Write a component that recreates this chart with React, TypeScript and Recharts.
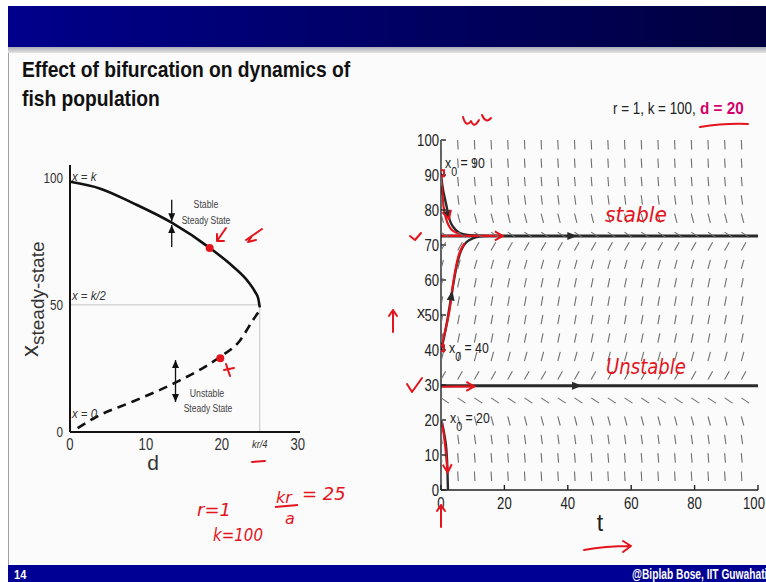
import React from 'react';
import { ComposedChart, Line, Scatter, XAxis, YAxis, ReferenceLine } from 'recharts';

const SANS = '"Liberation Sans", Arial, sans-serif';
const INK = '#e3141c';

// ---- bifurcation diagram: steady states of x against harvest rate d ----
const stableD = [0, 4, 8.3, 13.4, 18.4, 21.5, 23.5, 24.4, 24.8, 25];
const stableX = [98.4, 95.7, 90, 82.3, 72.4, 65, 59, 55, 52.5, 49];
const unstableD = [1, 3.5, 8.3, 13.8, 19.5, 22.4, 24.1, 24.8];
const unstableX = [1.5, 6, 12, 19.3, 29, 36, 44, 47];
const dTicks = [0, 10, 20, 25, 30];
const dTickLabels = ['0', '10', '20', 'kr/4', '30'];
const xssTicks = [0, 50, 100];
const kHalf = 50;
const dCritical = 25;
// arrows showing flow toward / away from each branch
const stableArrowD = 13.4;
const stableArrowFrom = [91.3, 72.8];
const stableArrowTo = [82.9, 81.4];
const unstableArrowD = 13.9;
const unstableArrowFrom = [19.3, 19.3];
const unstableArrowTo = [28.3, 11.8];
// ink dots at d = 20
const inkDotD = [18.4, 19.8];
const inkDotX = [72.4, 29];

// ---- time course, r = 1, k = 100, d = 20 ----
const tTicks = [0, 20, 40, 60, 80, 100];
const xTicks = [0, 10, 20, 30, 40, 50, 60, 70, 80, 90, 100];
const fieldT = [0, 5.26, 10.53, 15.79, 21.05, 26.32, 31.58, 36.84, 42.11, 47.37, 52.63, 57.89, 63.16, 68.42, 73.68, 78.95, 84.21, 89.47, 94.74];
const fieldX = [5.26, 10.53, 15.79, 21.05, 26.32, 31.58, 36.84, 42.11, 47.37, 52.63, 57.89, 63.16, 68.42, 73.68, 78.95, 84.21, 89.47, 94.74, 100];
const fieldSlope = [-15, -10.6, -6.7, -3.4, -0.6, 1.6, 3.3, 4.4, 4.9, 4.9, 4.4, 3.3, 1.6, -0.6, -3.4, -6.7, -10.6, -15, -20];
const eqHigh = 72.6;
const eqLow = 29.8;
const traj90T = [0, 0.6, 1.3, 2, 2.8, 4, 5.4, 7, 10, 14];
const traj90X = [90, 86, 83, 80, 77, 75, 73.7, 73.1, 72.7, 72.6];
const traj40T = [0, 1, 2, 3, 4, 5, 6, 7, 8, 10, 12, 15];
const traj40X = [40, 43.8, 48.5, 54, 59.5, 64.3, 67.6, 69.6, 70.8, 71.9, 72.4, 72.6];
const traj20T = [0, 0.6, 1.2, 1.7, 2, 2.2];
const traj20X = [20, 18, 15, 11.5, 6.5, 0];
const headT = [43, 44.5, 2.8, 3.6];
const headX = [eqHigh, eqLow, 77, 57];
const headSlope = [0, 0, -2.3, 5];
// red ink strokes over the time course
const ink90T = [0, 0.3, 0.8, 1.6, 2.6, 3.8, 6];
const ink90X = [90.5, 86, 81, 77.5, 75.3, 74, 73.2];
const inkHighT = [-0.8, 19.5];
const inkHighX = [72.6, 72.6];
const ink40T = [0, 1.2, 2.8, 4, 5.4, 7.5];
const ink40X = [40.5, 45, 52, 60, 66.5, 70.5];
const inkLowT = [-0.8, 10.5];
const inkLowX = [29.5, 29.6];
const ink20T = [0, 0.8, 1.5, 2.1];
const ink20X = [20, 16.5, 11, 5];
const inkHeadT = [19.5, 10.5, 2.1, 2.5];
const inkHeadX = [72.6, 29.6, 5, 77.5];
const inkHeadSlope = [0, 0, -20, -3];
const inkMarkT = [0, 0];
const inkMarkX = [90.5, 40.5];

const zip = (a: number[], b: number[], ka: string, kb: string) => a.map((v, i) => ({ [ka]: v, [kb]: b[i] }));

// left chart geometry
const L = { w: 320, h: 330, top: 15, right: 20, bottom: 18, left: 30, yAxisW: 40, xAxisH: 30 };
// right chart geometry
const R = { w: 386, h: 420, top: 20, right: 8, bottom: 20, left: 16, yAxisW: 45, xAxisH: 30 };
const PX_T = (R.w - R.left - R.yAxisW - R.right) / 100;
const PX_X = (R.h - R.top - R.bottom - R.xAxisH) / 100;

// condensed text: the slide font is squeezed horizontally
const NText = ({ x, y, s = 0.8, children, ...rest }: any) => (
  <text transform={`translate(${x},${y}) scale(${s},1)`} fontFamily={SANS} {...rest}>{children}</text>
);

const DTick = (p: any) => {
  const { x, y, payload } = p;
  const i = dTicks.indexOf(payload.value);
  const crit = payload.value === dCritical;
  return (
    <NText x={x} y={y + (crit ? 11 : 13)} s={crit ? 0.85 : 0.82} textAnchor="middle"
      fontSize={crit ? 11 : 16} fontStyle={crit ? 'italic' : 'normal'} fill="#333">
      {dTickLabels[i]}
    </NText>
  );
};

const XssTick = (p: any) => (
  <NText x={p.x} y={p.y + 5} s={0.78} textAnchor="end" fontSize={15} fill="#333">{p.payload.value}</NText>
);

const TTick = (p: any) => (
  <NText x={p.x} y={p.y + 12} s={0.82} textAnchor="middle" fontSize={16} fill="#222">{p.payload.value}</NText>
);

const XTick = (p: any) => (
  <NText x={p.x} y={p.y + 6} s={0.82} textAnchor="end" fontSize={16} fill="#222">{p.payload.value}</NText>
);

const VHead = (p: any) => {
  const { cx, cy, payload } = p;
  const s = payload.up ? 1 : -1;
  return <polygon points={`${cx},${cy} ${cx - 3.5},${cy + 8 * s} ${cx + 3.5},${cy + 8 * s}`} fill="#111" />;
};

const InkDot = (p: any) => <circle cx={p.cx} cy={p.cy} r={4} fill={INK} />;

function BifurcationChart() {
  const stable = zip(stableD, stableX, 'd', 'x');
  const unstable = zip(unstableD, unstableX, 'd', 'x');
  const heads = [
    ...stableArrowTo.map((x, i) => ({ d: stableArrowD, x, up: stableArrowFrom[i] < x })),
    ...unstableArrowTo.map((x, i) => ({ d: unstableArrowD, x, up: unstableArrowFrom[i] < x })),
  ];
  const dots = zip(inkDotD, inkDotX, 'd', 'x');
  const axis = { stroke: '#111', strokeWidth: 2 };
  return (
    <ComposedChart width={L.w} height={L.h} margin={{ top: L.top, right: L.right, bottom: L.bottom, left: L.left }}>
      <XAxis type="number" dataKey="d" domain={[0, 30.3]} ticks={dTicks} tick={<DTick />} tickLine={false}
        tickSize={0} tickMargin={5} axisLine={axis} height={L.xAxisH} allowDataOverflow />
      <YAxis type="number" dataKey="x" domain={[0, 105]} ticks={xssTicks} tickLine={false} tickSize={0} tickMargin={7}
        axisLine={axis} width={L.yAxisW} allowDataOverflow tick={<XssTick />} />
      <ReferenceLine segment={[{ x: 0, y: kHalf }, { x: dCritical, y: kHalf }]} stroke="#c4c4c4" strokeWidth={1} />
      <ReferenceLine segment={[{ x: dCritical, y: 0 }, { x: dCritical, y: kHalf }]} stroke="#c4c4c4" strokeWidth={1} />
      {stableArrowFrom.map((x, i) => (
        <ReferenceLine key={`s${i}`} segment={[{ x: stableArrowD, y: x }, { x: stableArrowD, y: stableArrowTo[i] }]} stroke="#111" strokeWidth={1.3} />
      ))}
      {unstableArrowFrom.map((x, i) => (
        <ReferenceLine key={`u${i}`} segment={[{ x: unstableArrowD, y: x }, { x: unstableArrowD, y: unstableArrowTo[i] }]} stroke="#111" strokeWidth={1.3} />
      ))}
      <Line data={stable} dataKey="x" type="monotone" stroke="#111" strokeWidth={2.6} dot={false} isAnimationActive={false} />
      <Line data={unstable} dataKey="x" type="monotone" stroke="#111" strokeWidth={2.6} strokeDasharray="9 6" dot={false} isAnimationActive={false} />
      <Scatter data={heads} dataKey="x" shape={<VHead />} isAnimationActive={false} />
      <Scatter data={dots} dataKey="x" shape={<InkDot />} isAnimationActive={false} />
    </ComposedChart>
  );
}

const FieldMark = (p: any) => {
  const { cx, cy, payload } = p;
  const m = (-payload.slope * PX_X) / PX_T;
  const n = Math.hypot(1, m);
  const len = 9.5;
  return <line x1={cx} y1={cy} x2={cx + len / n} y2={cy + (len * m) / n} stroke="#6f6f6f" strokeWidth={1.1} />;
};

const makeHead = (fill: string, open: boolean) => (p: any) => {
  const { cx, cy, payload } = p;
  const m = (-payload.slope * PX_X) / PX_T;
  const n = Math.hypot(1, m);
  const ux = 1 / n, uy = m / n;
  const len = open ? 8 : 10, half = open ? 4.5 : 4;
  const bx = cx - ux * len, by = cy - uy * len;
  const a = `${bx - uy * half},${by + ux * half}`;
  const b = `${bx + uy * half},${by - ux * half}`;
  return open
    ? <polyline points={`${a} ${cx},${cy} ${b}`} fill="none" stroke={fill} strokeWidth={2} />
    : <polygon points={`${a} ${cx},${cy} ${b}`} fill={fill} />;
};
const DarkHead = makeHead('#2a2a2a', false);
const InkHead = makeHead(INK, true);
const InkMark = (p: any) => <rect x={p.cx - 3} y={p.cy - 3} width={6} height={6} fill="none" stroke={INK} strokeWidth={2} />;

function TimeCourseChart() {
  const field: any[] = [];
  fieldX.forEach((x, j) => fieldT.forEach((t) => field.push({ t, x, slope: fieldSlope[j] })));
  const heads = headT.map((t, i) => ({ t, x: headX[i], slope: headSlope[i] }));
  const inkHeads = inkHeadT.map((t, i) => ({ t, x: inkHeadX[i], slope: inkHeadSlope[i] }));
  const axis = { stroke: '#222', strokeWidth: 1.4 };
  const dark = { stroke: '#2a2a2a', dot: false as const, isAnimationActive: false, type: 'monotone' as const };
  const ink = { stroke: INK, strokeWidth: 2.2, dot: false as const, isAnimationActive: false, type: 'monotone' as const };
  return (
    <ComposedChart width={R.w} height={R.h} margin={{ top: R.top, right: R.right, bottom: R.bottom, left: R.left }}>
      <XAxis type="number" dataKey="t" domain={[0, 100]} ticks={tTicks} tickSize={-5} tickMargin={12}
        height={R.xAxisH} axisLine={axis} tickLine={axis} tick={<TTick />} allowDataOverflow />
      <XAxis xAxisId="top" orientation="top" type="number" dataKey="t" domain={[0, 100]} ticks={tTicks} tickSize={-5}
        height={0} axisLine={axis} tickLine={axis} tick={false} allowDataOverflow />
      <YAxis type="number" dataKey="x" domain={[0, 100]} ticks={xTicks} tickSize={-5} tickMargin={7}
        width={R.yAxisW} axisLine={axis} tickLine={axis} tick={<XTick />} allowDataOverflow />
      <YAxis yAxisId="right" orientation="right" type="number" dataKey="x" domain={[0, 100]} ticks={xTicks} tickSize={-5}
        width={0} axisLine={axis} tickLine={axis} tick={false} allowDataOverflow />
      <Scatter data={field} dataKey="x" shape={<FieldMark />} isAnimationActive={false} />
      <Line data={zip([0, 100], [eqHigh, eqHigh], 't', 'x')} dataKey="x" {...dark} strokeWidth={3} />
      <Line data={zip([0, 100], [eqLow, eqLow], 't', 'x')} dataKey="x" {...dark} strokeWidth={3} />
      <Line data={zip(traj90T, traj90X, 't', 'x')} dataKey="x" {...dark} strokeWidth={2.4} />
      <Line data={zip(traj40T, traj40X, 't', 'x')} dataKey="x" {...dark} strokeWidth={2.4} />
      <Line data={zip(traj20T, traj20X, 't', 'x')} dataKey="x" {...dark} strokeWidth={2.4} />
      <Scatter data={heads} dataKey="x" shape={<DarkHead />} isAnimationActive={false} />
      <Line data={zip(ink90T, ink90X, 't', 'x')} dataKey="x" {...ink} />
      <Line data={zip(inkHighT, inkHighX, 't', 'x')} dataKey="x" {...ink} />
      <Line data={zip(ink40T, ink40X, 't', 'x')} dataKey="x" {...ink} />
      <Line data={zip(inkLowT, inkLowX, 't', 'x')} dataKey="x" {...ink} />
      <Line data={zip(ink20T, ink20X, 't', 'x')} dataKey="x" {...ink} />
      <Scatter data={inkHeads} dataKey="x" shape={<InkHead />} isAnimationActive={false} />
      <Scatter data={zip(inkMarkT, inkMarkX, 't', 'x')} dataKey="x" shape={<InkMark />} isAnimationActive={false} />
    </ComposedChart>
  );
}

function Slide() {
  return (
    <svg width={766} height={582} style={{ position: 'absolute', left: 0, top: 0 }}>
      <defs>
        <linearGradient id="hdr" x1="0" x2="1" y1="0" y2="0">
          <stop offset="0" stopColor="#00008c" />
          <stop offset="1" stopColor="#00003e" />
        </linearGradient>
        <linearGradient id="shade" x1="0" x2="0" y1="0" y2="1">
          <stop offset="0" stopColor="#a9a9b6" />
          <stop offset="1" stopColor="#e4e4e4" />
        </linearGradient>
      </defs>
      <rect width={766} height={582} fill="#ffffff" />
      <rect x={8} y={46} width={758} height={519} fill="#fbfbfb" />
      <rect x={8} y={6} width={758} height={41} fill="url(#hdr)" />
      <rect x={8} y={47} width={758} height={6} fill="url(#shade)" />
      <line x1={8.5} y1={53} x2={8.5} y2={565} stroke="#a0a0a0" />
      <rect x={8} y={565} width={758} height={17} fill="#000094" />
      <NText x={14} y={579} s={0.85} fontWeight="bold" fontSize={13} fill="#fff">14</NText>
      <NText x={632} y={579} s={0.73} fontWeight="bold" fontSize={14} fill="#fff">@Biplab Bose, IIT Guwahati</NText>
      <NText x={22} y={77} s={0.875} fontWeight="bold" fontSize={22} fill="#111">Effect of bifurcation on dynamics of</NText>
      <NText x={22} y={106} s={0.875} fontWeight="bold" fontSize={22} fill="#111">fish population</NText>
    </svg>
  );
}

function Labels() {
  return (
    <svg width={766} height={582} style={{ position: 'absolute', left: 0, top: 0, pointerEvents: 'none' }}>
      {/* left chart annotations */}
      <text transform="translate(38,357) rotate(-90)" fontFamily={SANS} fill="#333">
        <tspan fontSize={24}>x</tspan>
        <tspan fontSize={19} dy={6}>steady-state</tspan>
      </text>
      <text x={153} y={470} textAnchor="middle" fontFamily={SANS} fontSize={21} fill="#333">d</text>
      <g fontStyle="italic" fontSize={12} fill="#333">
        <NText x={72} y={181} s={0.95}>x = k</NText>
        <NText x={72} y={300} s={0.95}>x = k/2</NText>
        <NText x={72} y={418} s={0.95}>x = 0</NText>
      </g>
      <g fontSize={11.5} fill="#444" textAnchor="middle">
        <NText x={206} y={208} s={0.76}>Stable</NText>
        <NText x={206} y={224} s={0.74}>Steady State</NText>
        <NText x={207} y={397} s={0.76}>Unstable</NText>
        <NText x={208} y={412} s={0.74}>Steady State</NText>
      </g>
      {/* right chart annotations */}
      <text x={421} y={318} textAnchor="middle" fontFamily={SANS} fontSize={16} fill="#222">x</text>
      <text x={600} y={531} textAnchor="middle" fontFamily={SANS} fontSize={23} fill="#222">t</text>
      <g fontSize={15} fill="#222">
        <NText x={445} y={168} s={0.82}>x<tspan fontSize={13} dy={8}>0</tspan><tspan dy={-8}> = 90</tspan></NText>
        <NText x={449} y={353} s={0.82}>x<tspan fontSize={13} dy={8}>0</tspan><tspan dy={-8}> = 40</tspan></NText>
        <NText x={450} y={423} s={0.82}>x<tspan fontSize={13} dy={8}>0</tspan><tspan dy={-8}> = 20</tspan></NText>
      </g>
      <NText x={613} y={114} s={0.79} fontSize={17} fill="#222">r = 1, k = 100,</NText>
      <NText x={700} y={114} s={0.9} fontSize={17} fontWeight="bold" fill="#d4006c">d = 20</NText>
      {/* handwritten notes */}
      <g stroke={INK} strokeWidth={2} fill="none" strokeLinecap="round" strokeLinejoin="round">
        <path d="M700,127 Q725,123 748,124" />
        <path d="M463,117 Q466,128 471,121 Q474,129 479,120 M482,115 Q486,124 491,118" />
        <path d="M226,228 L217,241 M217,234 L217,241 L224,241" />
        <path d="M262,229 L246,240 L252,236 L248,242 L256,240" />
        <path d="M226,364 L230,376 M224,370 L234,368" />
        <path d="M252,462 L265,461" />
        <path d="M410,236 L415,240 L421,233" />
        <path d="M407,384 L412,392 L422,378" />
        <path d="M393,332 L393,310 M389,316 L393,310 L397,316" />
        <path d="M441,527 L441,505 M437,511 L441,505 L445,511" />
        <path d="M584,550 Q605,546 631,546 M623,541 L631,546 L623,552" />
      </g>
      <g fill={INK} fontFamily='"DejaVu Sans", sans-serif' fontStyle="italic">
        <text x={605} y={222} fontSize={21} textLength={62} lengthAdjust="spacingAndGlyphs">stable</text>
        <text x={606} y={374} fontSize={21} textLength={80} lengthAdjust="spacingAndGlyphs">Unstable</text>
        <text x={197} y={516} fontSize={18}>r=1</text>
        <text x={213} y={541} fontSize={18} textLength={50} lengthAdjust="spacingAndGlyphs">k=100</text>
        <text x={276} y={503} fontSize={16}>kr</text>
        <text x={285} y={524} fontSize={16}>a</text>
        <text x={302} y={500} fontSize={18}>= 25</text>
      </g>
      <path d="M275,507 L298,505" stroke={INK} strokeWidth={2} />
    </svg>
  );
}

export default function App() {
  return (
    <div style={{ position: 'absolute', left: 0, top: 0, width: 766, height: 582, overflow: 'hidden' }}>
      <Slide />
      <div style={{ position: 'absolute', left: 0, top: 150 }}>
        <BifurcationChart />
      </div>
      <div style={{ position: 'absolute', left: 380, top: 120 }}>
        <TimeCourseChart />
      </div>
      <Labels />
    </div>
  );
}
